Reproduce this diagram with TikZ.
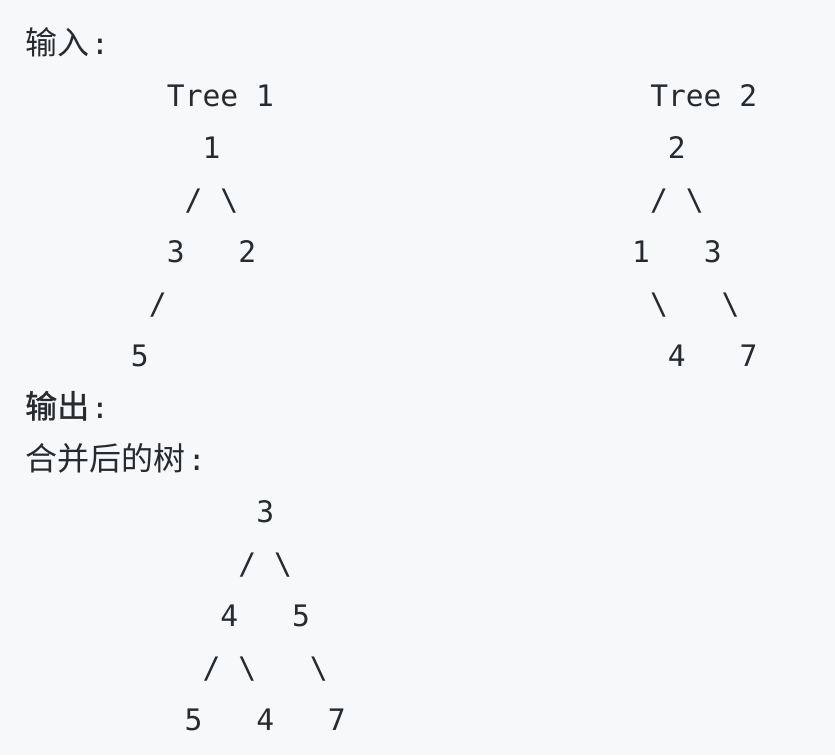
\documentclass[tikz,border=0pt]{standalone}
\usepackage{fontspec}
\newfontfamily\monofont{DejaVu Sans Mono}
\newfontfamily\cjkfont{Noto Sans CJK SC}
\newfontfamily\cjkheavy[FakeBold=1.2]{Noto Sans CJK SC}
\definecolor{bg}{HTML}{F7F8FA}
\definecolor{ink}{HTML}{262B30}
\tikzset{
  glyph/.style={inner sep=0pt, anchor=base, text=ink, font=\monofont\fontsize{29.6}{35}\selectfont},
  label/.style={inner sep=0pt, anchor=base west, text=ink, font=\cjkfont\fontsize{32}{38}\selectfont},
}
\newcommand\cell[4]{\node[glyph] (#1) at ({23.55+(#2+0.5)*17.9},{54+52*#3}) {#4};}
\begin{document}
\begin{tikzpicture}[x=1pt,y=-1pt]
\fill[bg] (0,0) rectangle (835,755);
\useasboundingbox (0,0) rectangle (835,755);
% input label
\node[label] (inlbl) at (25,54) {输入};
\node[glyph] (incolon) at (100,54) {:};
% tree 1
\node[glyph, anchor=base west] (t1title) at ({23.55+8*17.9},106) {Tree 1};
\cell{a1}{10}{2}{1}
\cell{a1l}{9}{3}{/}
\cell{a1r}{11}{3}{\textbackslash}
\cell{a3}{8}{4}{3}
\cell{a2}{12}{4}{2}
\cell{a3l}{7}{5}{/}
\cell{a5}{6}{6}{5}
% tree 2
\node[glyph, anchor=base west] (t2title) at ({23.55+35*17.9},106) {Tree 2};
\cell{b2}{36}{2}{2}
\cell{b2l}{35}{3}{/}
\cell{b2r}{37}{3}{\textbackslash}
\cell{b1}{34}{4}{1}
\cell{b3}{38}{4}{3}
\cell{b1r}{35}{5}{\textbackslash}
\cell{b3r}{39}{5}{\textbackslash}
\cell{b4}{36}{6}{4}
\cell{b7}{40}{6}{7}
% output labels
\node[label, font=\cjkheavy\fontsize{32}{38}\selectfont] (outlbl) at (25,418) {输出};
\node[glyph] (outcolon) at (100,418) {:};
\node[label] (mergelbl) at (25,470) {合并后的树};
\node[glyph] (mergecolon) at (196.7,470) {:};
% merged tree
\cell{c3}{13}{9}{3}
\cell{c3l}{12}{10}{/}
\cell{c3r}{14}{10}{\textbackslash}
\cell{c4}{11}{11}{4}
\cell{c5}{15}{11}{5}
\cell{c4l}{10}{12}{/}
\cell{c4r}{12}{12}{\textbackslash}
\cell{c5r}{16}{12}{\textbackslash}
\cell{c5b}{9}{13}{5}
\cell{c4b}{13}{13}{4}
\cell{c7b}{17}{13}{7}
\end{tikzpicture}
\end{document}
